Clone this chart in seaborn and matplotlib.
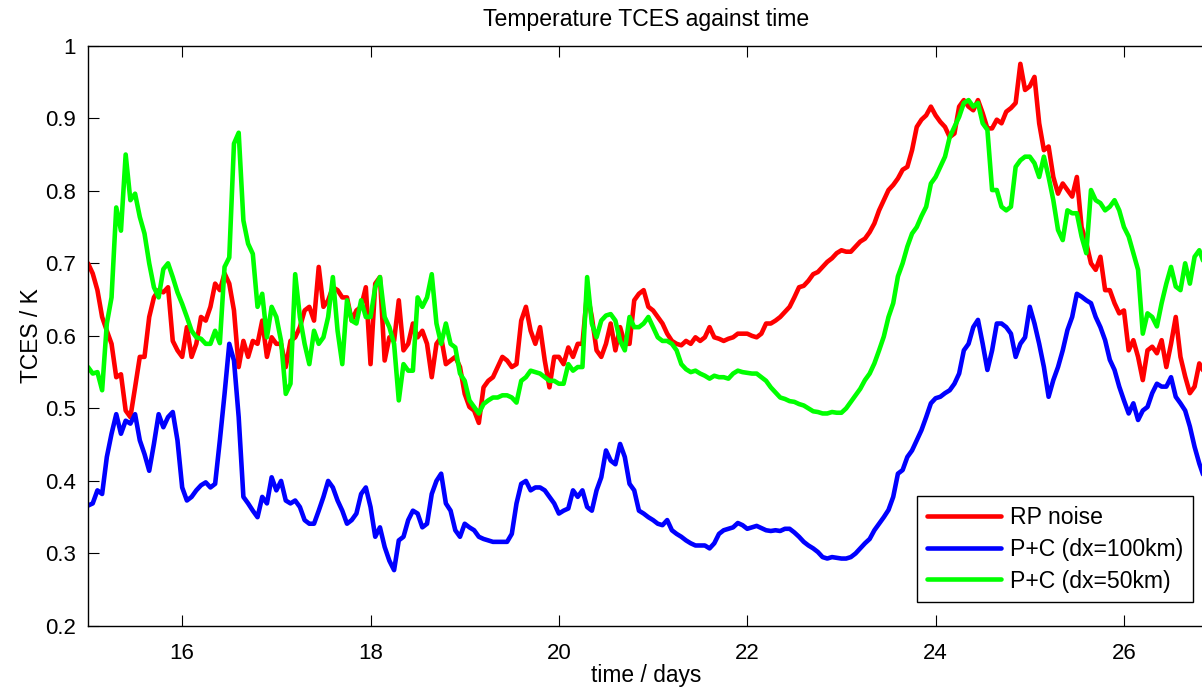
import matplotlib.pyplot as plt
import seaborn as sns
import numpy as np
import pandas as pd

# time axis, sampled every 0.05 days
days = np.round(np.arange(15.0, 26.85 + 0.001, 0.05), 2)

rp_noise = [
    # 15.00 - 17.00
    0.700, 0.686, 0.663, 0.626, 0.607, 0.589, 0.543, 0.547, 0.497, 0.488,
    0.529, 0.571, 0.571, 0.626, 0.653, 0.663, 0.660, 0.667, 0.593, 0.580,
    0.571, 0.612, 0.571, 0.589, 0.626, 0.621, 0.640, 0.672, 0.663, 0.686,
    0.672, 0.635, 0.557, 0.593, 0.571, 0.593, 0.589, 0.621, 0.571, 0.598,
    0.589,
    # 17.05 - 18.90
    0.589, 0.557, 0.593, 0.598, 0.612, 0.635, 0.640, 0.621, 0.695, 0.640,
    0.649, 0.667, 0.663, 0.653, 0.653, 0.621, 0.635, 0.640, 0.667, 0.561,
    0.672, 0.681, 0.566, 0.598, 0.593, 0.649, 0.580, 0.589, 0.617, 0.598,
    0.607, 0.589, 0.543, 0.589, 0.598, 0.561, 0.566, 0.571,
    # 18.95 - 20.80
    0.557, 0.520, 0.502, 0.497, 0.480, 0.529, 0.538, 0.543, 0.557, 0.571,
    0.566, 0.557, 0.561, 0.621, 0.640, 0.607, 0.589, 0.612, 0.566, 0.529,
    0.571, 0.571, 0.561, 0.584, 0.571, 0.589, 0.589, 0.660, 0.626, 0.580,
    0.571, 0.589, 0.617, 0.580, 0.612, 0.589, 0.589, 0.649,
    # 20.85 - 22.70
    0.658, 0.663, 0.640, 0.635, 0.626, 0.617, 0.603, 0.593, 0.589, 0.587,
    0.593, 0.589, 0.598, 0.593, 0.598, 0.612, 0.598, 0.596, 0.593, 0.596,
    0.598, 0.603, 0.603, 0.603, 0.600, 0.598, 0.603, 0.617, 0.617, 0.621,
    0.626, 0.633, 0.640, 0.653, 0.667, 0.669, 0.676, 0.685,
    # 22.75 - 24.70
    0.688, 0.695, 0.702, 0.707, 0.714, 0.718, 0.716, 0.716, 0.723, 0.730,
    0.734, 0.743, 0.755, 0.773, 0.787, 0.801, 0.808, 0.817, 0.829, 0.833,
    0.856, 0.888, 0.898, 0.904, 0.916, 0.904, 0.895, 0.888, 0.874, 0.879,
    0.916, 0.925, 0.916, 0.911, 0.925, 0.907, 0.886, 0.886, 0.898, 0.893,
    # 24.75 - 26.85
    0.909, 0.914, 0.921, 0.975, 0.939, 0.944, 0.957, 0.893, 0.856, 0.861,
    0.819, 0.796, 0.810, 0.801, 0.792, 0.819, 0.750, 0.728, 0.700, 0.691,
    0.709, 0.663, 0.663, 0.645, 0.631, 0.635, 0.580, 0.594, 0.571, 0.539,
    0.580, 0.585, 0.576, 0.594, 0.557, 0.589, 0.626, 0.571, 0.544, 0.521,
    0.530, 0.562, 0.550,
]

pc_100km = [
    # 15.00 - 17.00
    0.366, 0.369, 0.387, 0.382, 0.433, 0.465, 0.492, 0.465, 0.483, 0.479,
    0.492, 0.456, 0.437, 0.414, 0.451, 0.492, 0.474, 0.488, 0.495, 0.456,
    0.391, 0.373, 0.378, 0.387, 0.394, 0.398, 0.391, 0.396, 0.456, 0.520,
    0.589, 0.566, 0.488, 0.378, 0.369, 0.359, 0.350, 0.378, 0.369, 0.405,
    0.387,
    # 17.05 - 18.90
    0.400, 0.373, 0.369, 0.373, 0.364, 0.346, 0.341, 0.341, 0.359, 0.378,
    0.400, 0.391, 0.373, 0.359, 0.341, 0.346, 0.355, 0.382, 0.391, 0.364,
    0.323, 0.336, 0.309, 0.290, 0.277, 0.318, 0.323, 0.346, 0.359, 0.355,
    0.336, 0.341, 0.382, 0.400, 0.410, 0.369, 0.359, 0.332,
    # 18.95 - 20.80
    0.323, 0.341, 0.336, 0.332, 0.323, 0.320, 0.318, 0.316, 0.316, 0.316,
    0.316, 0.327, 0.369, 0.396, 0.400, 0.387, 0.391, 0.391, 0.387, 0.378,
    0.369, 0.355, 0.359, 0.362, 0.387, 0.378, 0.387, 0.364, 0.359, 0.387,
    0.405, 0.442, 0.428, 0.423, 0.451, 0.433, 0.396, 0.387,
    # 20.85 - 22.70
    0.359, 0.355, 0.350, 0.346, 0.341, 0.339, 0.346, 0.332, 0.327, 0.323,
    0.318, 0.314, 0.311, 0.311, 0.311, 0.307, 0.314, 0.327, 0.332, 0.334,
    0.336, 0.342, 0.339, 0.334, 0.336, 0.338, 0.335, 0.332, 0.331, 0.332,
    0.331, 0.334, 0.334, 0.329, 0.323, 0.316, 0.311, 0.307,
    # 22.75 - 24.70
    0.302, 0.295, 0.293, 0.295, 0.294, 0.293, 0.293, 0.295, 0.300, 0.307,
    0.314, 0.320, 0.332, 0.341, 0.350, 0.360, 0.378, 0.410, 0.415, 0.433,
    0.442, 0.456, 0.470, 0.488, 0.507, 0.514, 0.516, 0.521, 0.525, 0.534,
    0.548, 0.580, 0.589, 0.612, 0.622, 0.589, 0.553, 0.580, 0.617, 0.617,
    # 24.75 - 26.85
    0.612, 0.603, 0.571, 0.589, 0.598, 0.640, 0.617, 0.589, 0.557, 0.516,
    0.539, 0.557, 0.580, 0.608, 0.626, 0.658, 0.654, 0.649, 0.645, 0.626,
    0.612, 0.594, 0.567, 0.553, 0.530, 0.511, 0.493, 0.507, 0.484, 0.497,
    0.502, 0.521, 0.534, 0.530, 0.530, 0.543, 0.516, 0.507, 0.497, 0.475,
    0.447, 0.424, 0.405,
]

pc_50km = [
    # 15.00 - 17.00
    0.557, 0.548, 0.550, 0.525, 0.617, 0.653, 0.777, 0.745, 0.850, 0.787,
    0.796, 0.764, 0.741, 0.700, 0.667, 0.653, 0.692, 0.700, 0.681, 0.660,
    0.644, 0.626, 0.607, 0.598, 0.596, 0.589, 0.589, 0.607, 0.590, 0.695,
    0.708, 0.865, 0.880, 0.759, 0.727, 0.713, 0.640, 0.658, 0.598, 0.640,
    0.626,
    # 17.05 - 18.90
    0.593, 0.520, 0.534, 0.685, 0.626, 0.589, 0.561, 0.607, 0.589, 0.598,
    0.626, 0.681, 0.607, 0.561, 0.649, 0.621, 0.617, 0.649, 0.626, 0.626,
    0.667, 0.681, 0.626, 0.612, 0.589, 0.511, 0.561, 0.552, 0.552, 0.653,
    0.640, 0.653, 0.685, 0.617, 0.589, 0.617, 0.589, 0.584,
    # 18.95 - 20.80
    0.548, 0.538, 0.511, 0.502, 0.493, 0.506, 0.511, 0.515, 0.515, 0.518,
    0.518, 0.515, 0.508, 0.538, 0.543, 0.552, 0.550, 0.548, 0.543, 0.538,
    0.538, 0.534, 0.534, 0.561, 0.552, 0.557, 0.557, 0.681, 0.617, 0.598,
    0.621, 0.628, 0.630, 0.621, 0.593, 0.580, 0.626, 0.612,
    # 20.85 - 22.70
    0.612, 0.617, 0.626, 0.612, 0.598, 0.593, 0.593, 0.589, 0.580, 0.561,
    0.554, 0.550, 0.552, 0.548, 0.545, 0.541, 0.545, 0.543, 0.543, 0.541,
    0.548, 0.552, 0.550, 0.549, 0.548, 0.548, 0.543, 0.538, 0.529, 0.522,
    0.515, 0.513, 0.510, 0.509, 0.506, 0.504, 0.500, 0.496,
    # 22.75 - 24.70
    0.495, 0.493, 0.493, 0.495, 0.494, 0.494, 0.500, 0.509, 0.518, 0.527,
    0.539, 0.548, 0.562, 0.580, 0.599, 0.626, 0.645, 0.682, 0.700, 0.723,
    0.741, 0.750, 0.765, 0.778, 0.810, 0.819, 0.833, 0.847, 0.874, 0.888,
    0.902, 0.921, 0.925, 0.916, 0.921, 0.893, 0.884, 0.801, 0.801, 0.778,
    # 24.75 - 26.85
    0.773, 0.778, 0.833, 0.842, 0.847, 0.847, 0.838, 0.819, 0.847, 0.819,
    0.787, 0.746, 0.732, 0.773, 0.769, 0.769, 0.737, 0.714, 0.801, 0.787,
    0.783, 0.773, 0.778, 0.787, 0.773, 0.750, 0.737, 0.714, 0.691, 0.603,
    0.631, 0.626, 0.613, 0.645, 0.672, 0.695, 0.668, 0.663, 0.700, 0.672,
    0.709, 0.718, 0.700,
]

series_names = ['RP noise', 'P+C (dx=100km)', 'P+C (dx=50km)']
series_colors = ['#ff0000', '#0000ff', '#00ff00']
ytick_labels = ['0.2', '0.3', '0.4', '0.5', '0.6', '0.7', '0.8', '0.9', '1']

for s in (rp_noise, pc_100km, pc_50km):
    assert len(s) == len(days), len(s)

df = pd.DataFrame({'days': days, series_names[0]: rp_noise,
                   series_names[1]: pc_100km, series_names[2]: pc_50km})

sns.set_theme(style='ticks')
plt.rcParams['font.family'] = ['Liberation Sans', 'DejaVu Sans']
plt.rcParams['text.color'] = 'black'
plt.rcParams['axes.labelcolor'] = 'black'

fig = plt.figure(figsize=(12.02, 6.87), dpi=100, facecolor='white')
ax = fig.add_axes([88 / 1202, 61 / 687, 1116 / 1202, 580.3 / 687])

for name, col in zip(series_names, series_colors):
    sns.lineplot(data=df, x='days', y=name, color=col, linewidth=3.3,
                 label=name, ax=ax)

ax.set_xlim(15, 26.85)
ax.set_ylim(0.2, 1.0)
ax.set_xticks(np.arange(16, 27, 2))
ax.set_yticks(np.arange(0.2, 1.001, 0.1))
ax.set_yticklabels(ytick_labels)
ax.tick_params(direction='in', length=8, width=0.8, top=True, right=False,
               labelsize=16, colors='black')
ax.tick_params(axis='x', pad=12)
ax.tick_params(axis='y', pad=9)
for sp in ax.spines.values():
    sp.set_color('black')
    sp.set_linewidth(1.0)
ax.spines['right'].set_visible(False)

ax.set_title('Temperature TCES against time', fontsize=16.6, pad=14.5,
             color='black')
ax.set_xlabel('time / days', fontsize=16.4, labelpad=0.5)
ax.set_ylabel('TCES / K', fontsize=16.4, labelpad=1)

leg = ax.legend(loc='lower right', bbox_to_anchor=(0.99, 0.041),
                borderaxespad=0, fontsize=16.6, frameon=True, fancybox=False,
                edgecolor='black', framealpha=1, handlelength=3.2,
                handletextpad=0.4, labelspacing=0.38, borderpad=0.42)
leg.get_frame().set_linewidth(1.0)
for line in leg.get_lines():
    line.set_linewidth(3.3)

fig.savefig('out.png', dpi=100, facecolor='white')
